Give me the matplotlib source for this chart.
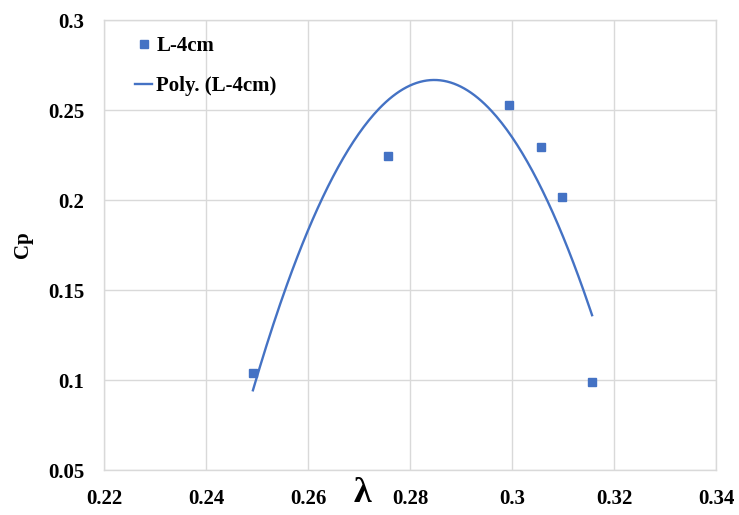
import numpy as np
import matplotlib.pyplot as plt

# data
tsr = [0.2492, 0.2756, 0.2995, 0.3056, 0.3098, 0.3157]
cp = [0.1039, 0.2244, 0.2528, 0.2293, 0.2015, 0.0991]

x_ticks = [0.22, 0.24, 0.26, 0.28, 0.30, 0.32, 0.34]
x_labels = ['0.22', '0.24', '0.26', '0.28', '0.3', '0.32', '0.34']
y_ticks = [0.05, 0.10, 0.15, 0.20, 0.25, 0.30]
y_labels = ['0.05', '0.1', '0.15', '0.2', '0.25', '0.3']

blue = '#4472C4'
grid_col = '#d9d9d9'

plt.rcParams['font.family'] = ['Liberation Serif', 'DejaVu Serif']
plt.rcParams['font.weight'] = 'bold'

fig = plt.figure(figsize=(7.39, 5.15), dpi=100)
ax = fig.add_axes([104/739, 1 - 470/515, 612/739, 450/515])

# 2nd order polynomial trendline (like Excel)
coef = np.polyfit(tsr, cp, 2)
xs = np.linspace(min(tsr), max(tsr), 200)
ax.plot(xs, np.polyval(coef, xs), color=blue, lw=1.7, label='Poly. (L-4cm)', zorder=3)
ax.plot(tsr, cp, 's', color=blue, ms=5.5, ls='none', label='L-4cm', zorder=4)

ax.set_xlim(0.22, 0.34)
ax.set_ylim(0.05, 0.30)
ax.set_xticks(x_ticks)
ax.set_xticklabels(x_labels)
ax.set_yticks(y_ticks)
ax.set_yticklabels(y_labels)
ax.tick_params(axis='y', length=0, labelsize=15, pad=14)
ax.tick_params(axis='x', length=0, labelsize=15, pad=14)
for lab in ax.get_xticklabels() + ax.get_yticklabels():
    lab.set_fontweight('bold')

ax.grid(True, color=grid_col, lw=1)
ax.set_axisbelow(True)
for s in ax.spines.values():
    s.set_color(grid_col)
    s.set_linewidth(1)

fig.text(362/739, 1 - 494/515, 'λ', fontsize=26, fontweight='bold', ha='center', va='center')
fig.text(23/739, 1 - 245/515, 'Cp', fontsize=15, fontweight='bold', rotation=90,
         ha='center', va='center')

h, l = ax.get_legend_handles_labels()
leg = ax.legend(h[::-1], l[::-1], loc='upper left', bbox_to_anchor=(125/739, 1 - 26/515),
                bbox_transform=fig.transFigure, frameon=False,
                handlelength=0.8, handletextpad=0.2, labelspacing=0.95, borderpad=0,
                prop={'weight': 'bold', 'size': 15})

fig.savefig('out.png', dpi=100)
